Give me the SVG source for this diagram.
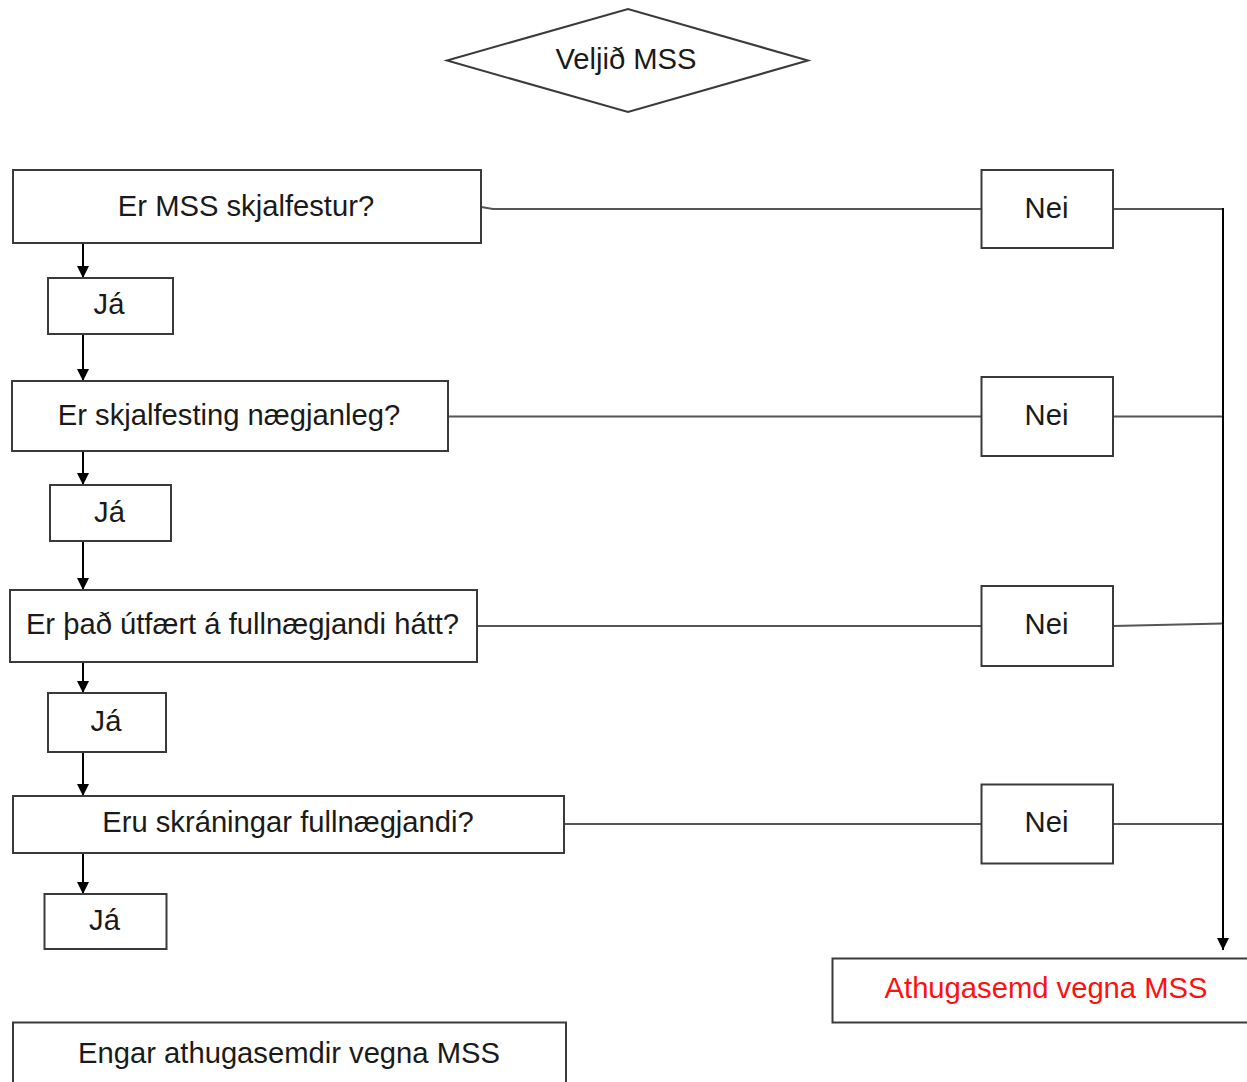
<svg xmlns="http://www.w3.org/2000/svg" width="1247" height="1082" viewBox="0 0 1247 1082">
<defs>
<style>
.box{fill:#fff;stroke:#3a3a3a;stroke-width:2}
.t{font-family:"Liberation Sans",Arial,sans-serif;font-size:29.2px;fill:#1a1a1a;text-anchor:middle}
.red{fill:#ff1010}
.ln{fill:none;stroke:#555;stroke-width:2}
.ar{fill:none;stroke:#000;stroke-width:2}
</style>
<marker id="ah" viewBox="0 0 12 12" refX="12" refY="6" markerWidth="12" markerHeight="12" markerUnits="userSpaceOnUse" orient="auto">
<path d="M0,0 L12,6 L0,12 Z" fill="#000"/>
</marker>
</defs>
<rect width="1247" height="1082" fill="#fff"/>
<g id="connectors">
<line class="ar" x1="83" y1="243" x2="83" y2="278" marker-end="url(#ah)"/>
<line class="ar" x1="83" y1="334" x2="83" y2="381" marker-end="url(#ah)"/>
<line class="ar" x1="83" y1="451" x2="83" y2="485" marker-end="url(#ah)"/>
<line class="ar" x1="83" y1="541" x2="83" y2="590" marker-end="url(#ah)"/>
<line class="ar" x1="83" y1="662" x2="83" y2="693" marker-end="url(#ah)"/>
<line class="ar" x1="83" y1="752" x2="83" y2="796" marker-end="url(#ah)"/>
<line class="ar" x1="83" y1="853" x2="83" y2="894" marker-end="url(#ah)"/>
<polyline class="ln" points="481,207 493,209 981,209"/>
<line class="ln" x1="448" y1="416.5" x2="981" y2="416.5"/>
<line class="ln" x1="477" y1="626" x2="981" y2="626"/>
<line class="ln" x1="564" y1="824" x2="981" y2="824"/>
<line class="ln" x1="1113" y1="209" x2="1223" y2="209"/>
<line class="ln" x1="1113" y1="416.5" x2="1223" y2="416.5"/>
<line class="ln" x1="1113" y1="626" x2="1223" y2="623.5"/>
<line class="ln" x1="1113" y1="824" x2="1223" y2="824"/>
<line class="ar" x1="1223" y1="208" x2="1223" y2="950" marker-end="url(#ah)"/>
</g>
<g id="start">
<polygon class="box" points="447,60.5 628,9 808,60.5 628,112"/>
<text class="t" x="626" y="68.5">Veljið MSS</text>
</g>
<g id="q1">
<rect class="box" x="13" y="170" width="468" height="73"/>
<text class="t" x="246" y="215.5">Er MSS skjalfestur?</text>
</g>
<g id="ja1">
<rect class="box" x="48" y="278" width="125" height="56"/>
<text class="t" x="109" y="313.5">Já</text>
</g>
<g id="q2">
<rect class="box" x="12" y="381" width="436" height="70"/>
<text class="t" x="229" y="425">Er skjalfesting nægjanleg?</text>
</g>
<g id="ja2">
<rect class="box" x="50" y="485" width="121" height="56"/>
<text class="t" x="109.5" y="522">Já</text>
</g>
<g id="q3">
<rect class="box" x="10" y="590" width="467" height="72"/>
<text class="t" x="242.5" y="633.5">Er það útfært á fullnægjandi hátt?</text>
</g>
<g id="ja3">
<rect class="box" x="48" y="693" width="118" height="59"/>
<text class="t" x="106" y="731">Já</text>
</g>
<g id="q4">
<rect class="box" x="13" y="796" width="551" height="57"/>
<text class="t" x="288" y="832">Eru skráningar fullnægjandi?</text>
</g>
<g id="ja4">
<rect class="box" x="44.5" y="894" width="122" height="55"/>
<text class="t" x="104.5" y="930">Já</text>
</g>
<g id="engar">
<rect class="box" x="13" y="1022.5" width="553" height="80"/>
<text class="t" x="289" y="1062.5">Engar athugasemdir vegna MSS</text>
</g>
<g id="nei1">
<rect class="box" x="981.5" y="170" width="131.5" height="78"/>
<text class="t" x="1046.5" y="217.5">Nei</text>
</g>
<g id="nei2">
<rect class="box" x="981.5" y="377" width="131.5" height="79"/>
<text class="t" x="1046.5" y="425">Nei</text>
</g>
<g id="nei3">
<rect class="box" x="981.5" y="586" width="131.5" height="80"/>
<text class="t" x="1046.5" y="633.5">Nei</text>
</g>
<g id="nei4">
<rect class="box" x="981.5" y="784.5" width="131.5" height="79"/>
<text class="t" x="1046.5" y="832">Nei</text>
</g>
<g id="athugasemd">
<rect class="box" x="832.5" y="958.5" width="430" height="64"/>
<text class="t red" x="1046" y="997.5">Athugasemd vegna MSS</text>
</g>
</svg>
